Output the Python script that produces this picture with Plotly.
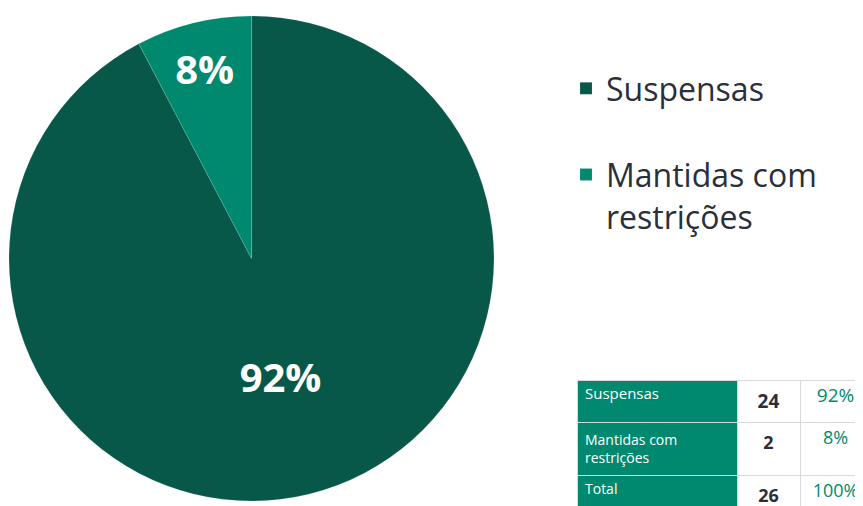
import plotly.graph_objects as go

categories = ["Suspensas", "Mantidas com<br>restrições"]
counts = [24, 2]
table_labels = ["Suspensas", "Mantidas com<br>restrições", "Total"]
table_counts = [24, 2, 26]
table_pcts = ["92%", "8%", "100%"]

DARK = "#08584A"
LIGHT = "#00896F"
TEXT = "#2A2F3A"

# legend spacing: pad the first label with an empty line
legend_labels = [categories[0] + "<br> ", categories[1]]

fig = go.Figure()
fig.add_trace(go.Pie(
    labels=legend_labels,
    values=counts,
    marker=dict(colors=[DARK, LIGHT], line=dict(color="rgba(255,255,255,0.25)", width=0.5)),
    sort=False,
    direction="clockwise",
    rotation=0,
    texttemplate="<b>%{percent:.0%}</b>",
    textposition="inside",
    insidetextorientation="horizontal",
    textfont=dict(family="Open Sans", size=40, color="white"),
    domain=dict(x=[1/863, 486/863], y=[13/506, 498/506]),
    hoverinfo="value+percent",
))

fig.add_trace(go.Table(
    domain=dict(x=[569/863, 1.0], y=[0, 1 - 372/506]),
    columnwidth=[160, 63, 71],
    header=dict(
        values=[table_labels[0], f"<b>{table_counts[0]}</b>", table_pcts[0]],
        fill_color=[LIGHT, "white", "white"],
        font=dict(family="Open Sans", size=[15, 19, 19], color=["white", TEXT, LIGHT]),
        align=["left", "center", "center"],
        line=dict(color="#D9D9D9", width=1),
        height=41,
    ),
    cells=dict(
        values=[table_labels[1:], [f"<b>{v}</b>" for v in table_counts[1:]], table_pcts[1:]],
        fill_color=[LIGHT, "white", "white"],
        font=dict(family="Open Sans", size=[14, 18, 18], color=["white", TEXT, LIGHT]),
        align=["left", "center", "center"],
        line=dict(color="#D9D9D9", width=1),
        height=30,
    ),
))

fig.update_layout(
    width=863, height=506,
    margin=dict(l=0, r=0, t=0, b=0),
    paper_bgcolor="white",
    plot_bgcolor="white",
    showlegend=True,
    legend=dict(
        x=558/863, y=1 - 53/506, xanchor="left", yanchor="top",
        font=dict(family="Open Sans", size=32, color=TEXT),
        tracegroupgap=0,
        valign="top",
    ),
)

fig.write_html("out.html")
